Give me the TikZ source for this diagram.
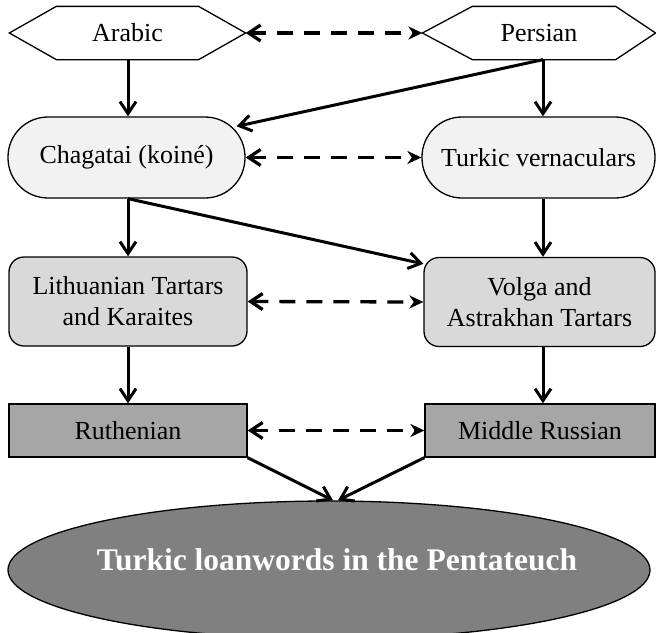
\documentclass[tikz,border=0pt]{standalone}
\usepackage{fontspec}
\setmainfont{Liberation Serif}
\usetikzlibrary{arrows.meta,shapes.geometric,calc}
\definecolor{fillA}{HTML}{F2F2F2}
\definecolor{fillB}{HTML}{D9D9D9}
\definecolor{fillC}{HTML}{A6A6A6}
\definecolor{fillD}{HTML}{808080}
\begin{document}
\begin{tikzpicture}[x=1pt,y=-1pt,
  box/.style={draw=black,line width=1.3pt,align=center,inner sep=0pt,
    font=\fontsize{26}{31}\selectfont},
  hexbox/.style={box,draw=none,minimum height=52pt},
  hexline/.style={draw=black,line width=1.3pt,line join=miter},
  pill/.style={box,fill=fillA,minimum height=81pt,rounded corners=40pt},
  rbox/.style={box,fill=fillB,minimum height=89pt,rounded corners=15pt},
  sbox/.style={box,fill=fillC,minimum height=53pt},
  solidarrow/.style={line width=3pt,-{Straight Barb[length=12pt,width=16pt]}},
  dasharrow/.style={line width=3.3pt,dash pattern=on 16pt off 11pt,
    {Straight Barb[length=12pt,width=16pt]}-{Stealth[length=14pt,width=13pt,inset=4.5pt]}}
]
\useasboundingbox (0,0) rectangle (656,632);
\clip (0,0) rectangle (656,632);
% top row
\node[hexbox,minimum width=235pt] (A) at (127.5,33) {Arabic};
\node[hexbox,minimum width=232pt] (P) at (539,33) {Persian};
\draw[hexline] (A.west) -- ($(A.north west)+(47,0)$) -- ($(A.north east)+(-47,0)$) -- (A.east) -- ($(A.south east)+(-47,0)$) -- ($(A.south west)+(47,0)$) -- cycle;
\draw[hexline] (P.west) -- ($(P.north west)+(50,0)$) -- ($(P.north east)+(-40,0)$) -- (P.east) -- ($(P.south east)+(-40,0)$) -- ($(P.south west)+(50,0)$) -- cycle;
% second row
\node[pill,minimum width=237pt] (C) at (126.5,157.5) {Chagatai (koiné)};
\node[pill,minimum width=233pt] (T) at (538.5,157.5) {Turkic vernaculars};
% third row
\node[rbox,minimum width=238pt] (L) at (128,301.5) {Lithuanian Tartars\\and Karaites};
\node[rbox,minimum width=231pt] (V) at (539.5,302) {Volga and\\Astrakhan Tartars};
% fourth row
\node[sbox,minimum width=238pt] (R) at (128,430.5) {Ruthenian};
\node[sbox,minimum width=230pt] (M) at (540,430.5) {Middle Russian};
% ellipse
\node[ellipse,draw=black,line width=1.3pt,fill=fillD,minimum width=642pt,minimum height=138pt,inner sep=0pt] (E) at (329,570) {};
\node[text=white,font=\fontsize{31.5}{36}\selectfont\bfseries,inner sep=0pt] (Et) at (337,560) {Turkic loanwords in the Pentateuch};
% vertical coordinates
\coordinate (xL) at (128,0);
\coordinate (xR) at (543,0);
% solid arrows
\draw[solidarrow] (xL |- A.south) -- (xL |- C.north);
\draw[solidarrow] (xR |- P.south) -- (xR |- T.north);
\draw[solidarrow] (xR |- P.south) -- ($(C.north east)+(-9,10)$);
\draw[solidarrow] (xL |- C.south) -- ($(V.north west)+(0,7)$);
\draw[solidarrow] (xL |- C.south) -- (xL |- L.north);
\draw[solidarrow] (xR |- T.south) -- (xR |- V.north);
\draw[solidarrow] (xL |- L.south) -- (xL |- R.north);
\draw[solidarrow] (xR |- V.south) -- (xR |- M.north);
\draw[solidarrow] (R.south east) -- ($(E.north)+(4,0)$);
\draw[solidarrow] (M.south west) -- ($(E.north)+(9,0)$);
% dashed arrows
\draw[dasharrow] (A.east) -- (P.west);
\draw[dasharrow] (C.east) -- (T.west);
\draw[dasharrow] (L.east) -- (V.west);
\draw[dasharrow] (R.east) -- (M.west);
\end{tikzpicture}
\end{document}
